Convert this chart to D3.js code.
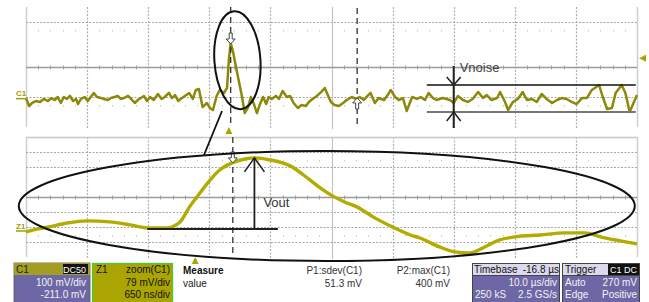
<!DOCTYPE html>
<html><head><meta charset="utf-8">
<script src="https://cdn.jsdelivr.net/npm/d3@7"></script>
<style>
html,body{margin:0;padding:0;background:#fff;}
svg{display:block;font-family:"Liberation Sans",Arial,sans-serif;}
</style></head>
<body><svg id="c" width="649" height="302"></svg>
<script>
// ---- Data ----
// C1 acquisition: time (µs, relative to trigger) and voltage (mV)
const c1Time = [-33.2,-32.7,-32.2,-31.6,-30.9,-30.3,-29.6,-29.1,-28.5,-28.0,-27.5,-27.0,-26.5,-26.0,-25.5,-25.0,-24.7,-24.2,-23.6,-23.1,-22.6,-22.1,-21.6,-20.9,-20.5,-19.8,-19.3,-18.7,-18.2,-17.7,-17.2,-16.5,-16.0,-15.4,-14.9,-14.4,-13.9,-13.4,-12.9,-12.3,-11.6,-11.0,-10.5,-9.8,-9.3,-8.8,-8.3,-7.9,-7.2,-6.5,-5.9,-5.4,-4.9,-4.3,-3.6,-3.1,-2.6,-2.0,-1.5,-0.8,-0.3,0.0,0.3,0.7,1.1,1.6,2.1,2.6,3.1,3.6,4.1,4.6,5.1,5.6,6.1,6.5,7.0,7.7,8.2,8.8,9.5,10.0,10.6,11.3,11.9,12.6,13.1,13.7,14.4,15.1,15.7,16.2,16.7,17.3,18.0,18.7,19.3,20.1,20.8,21.4,22.1,22.7,23.2,23.9,24.5,25.4,26.0,26.5,27.2,27.8,28.5,29.1,30.0,30.8,31.4,32.1,32.7,33.4,34.0,35.0,36.2,36.8,37.5,38.3,39.1,39.9,40.8,41.6,42.2,43.0,43.9,44.4,45.2,45.7,46.5,47.3,48.1,48.8,49.6,50.4,51.2,52.0,52.9,53.7,54.5,55.3,56.1,56.9,57.8,58.6,59.4,60.6,61.2,61.9,62.7,63.3,64.3,64.9,65.6,66.3,66.8];
const c1Mv = [4,-49,-29,-16,-22,-2,-16,4,-9,11,-29,11,-2,18,-16,-2,-36,-2,11,-16,11,38,11,4,-2,-9,4,11,18,-2,4,18,-2,-29,-9,4,18,-16,11,-9,31,-2,11,38,4,24,-16,-2,18,38,-2,58,64,-56,-29,-62,-76,18,58,38,71,258,371,311,224,124,24,-96,-62,11,-36,-96,-36,11,-36,11,-2,18,-2,51,11,18,-29,-62,-42,-49,-22,-2,18,44,71,24,-22,-42,-49,-29,-9,11,-2,11,-9,18,38,-29,4,-9,24,58,11,-9,4,-82,11,-2,11,-9,38,4,-9,4,-9,-29,18,-9,-22,-2,44,4,24,-9,4,44,-22,-76,-22,-2,44,-9,-2,-22,31,-2,-29,-9,4,-2,-22,-36,4,4,58,91,11,-69,-62,38,91,38,-89,-22,24];
// Z1 zoom of C1: time (µs) and voltage (mV)
const z1Time = [-2.00,-1.93,-1.76,-1.56,-1.35,-1.11,-0.89,-0.71,-0.49,-0.42,-0.36,-0.26,-0.15,-0.04,0.06,0.19,0.33,0.44,0.60,0.81,1.02,1.13,1.26,1.39,1.52,1.71,1.90,2.09,2.19,2.40,2.56,2.72,2.88,3.04,3.20,3.47,3.73,3.95,4.11,4.32,4.50];
const z1Mv = [-21,-11,5,26,37,32,16,0,0,11,32,111,184,253,305,342,363,369,358,327,253,211,169,137,111,53,5,-37,-53,-100,-126,-132,-100,-63,-47,-37,-26,-26,-47,-68,-84];
// Settings / annotations
const c1Scale = 100, c1Offset = -211;     // mV/div, mV
const z1Scale = 79, z1Center = 163;       // mV/div, mV at centre line
const timebase = 10, delay = -16.8;       // µs/div, µs
const zoomSpan = [-2.0, 4.5];             // µs
const vnoise = {top:91, bottom:-89, t0:32.4, t1:66.6, tArrow:36.8};
const vout = {base:0, peak:369, t0:-0.71, t1:0.68, tArrow:0.43};
const infoC1 = ["C1","DC50","100 mV/div","-211.0 mV"];
const infoZ1 = ["Z1","zoom(C1)","79 mV/div","650 ns/div"];
const measureNames = ["P1:sdev(C1)","P2:max(C1)"];
const measureValues = ["51.3 mV","400 mV"];
const infoTime = ["Timebase","-16.8 µs","10.0 µs/div","250 kS","2.5 GS/s"];
const infoTrig = ["Trigger","C1 DC","Auto","270 mV","Edge","Positive"];

// ---- Scales ----
const L = 26, R = 637;
const divX = d3.scaleLinear().domain([0,10]).range([L,R]);
const pTop = {y0:7, y1:127}, pBot = {y0:137, y1:257};
const divYTop = d3.scaleLinear().domain([-4,4]).range([pTop.y1, pTop.y0]);
const divYBot = d3.scaleLinear().domain([-4,4]).range([pBot.y1, pBot.y0]);
const xTop = d3.scaleLinear().domain([-(5*timebase + delay), 5*timebase - delay]).range([L,R]);
const yTop = d3.scaleLinear().domain([-c1Offset - 4*c1Scale, -c1Offset + 4*c1Scale]).range([pTop.y1, pTop.y0]);
const xZ = d3.scaleLinear().domain(zoomSpan).range([L,R]);
const yZ = d3.scaleLinear().domain([z1Center - 4*z1Scale, z1Center + 4*z1Scale]).range([pBot.y1, pBot.y0]);

const svg = d3.select("#c");

// ---- Grids ----
function grid(p, divY, hDotted, hSolid) {
  const g = svg.append("g");
  d3.range(0,11).forEach(i => {
    const x = Math.round(divX(i)) + 0.5;
    const edge = (i===0 || i===10);
    g.append("line").attr("x1",x).attr("x2",x).attr("y1",p.y0).attr("y2",p.y1+ (edge?0:2))
      .attr("stroke", edge ? "#cfcfcf" : (i===5 ? "#c4c4c4" : "#b0b0b0"))
      .attr("stroke-width", edge ? 1.5 : 1.2)
      .attr("stroke-dasharray", (edge||i===5) ? null : "2,1.5");
  });
  hDotted.forEach(d => {
    const y = Math.round(divY(d)) + 0.5;
    g.append("line").attr("x1",L).attr("x2",R).attr("y1",y).attr("y2",y)
      .attr("stroke","#a8a8a8").attr("stroke-width",1.1).attr("stroke-dasharray","2,1.5");
  });
  hSolid.forEach(d => {
    const y = Math.round(divY(d)) + 0.5;
    g.append("line").attr("x1",L).attr("x2",R).attr("y1",y).attr("y2",y)
      .attr("stroke", d===0 ? "#9a9a9a" : "#c8c8c8").attr("stroke-width", d===0 ? 1.3 : 1.5);
  });
  d3.range(0,50).forEach(k => {
    if (k%5===0) return;
    const x = Math.round(divX(k/5)) + 0.5;
    const yc = Math.round(divY(0)) + 0.5;
    g.append("line").attr("x1",x).attr("x2",x).attr("y1",yc-2).attr("y2",yc+2).attr("stroke","#a0a0a0");
    [2.5,-2.5].forEach(d => {
      const yy = Math.round(divY(d));
      g.append("line").attr("x1",x).attr("x2",x).attr("y1",yy).attr("y2",yy+1.5).attr("stroke","#c8c8c8");
    });
  });
}
grid(pTop, divYTop, [3,-2], [0]);
grid(pBot, divYBot, [3,2,-1,-2,-3], [4,0]);

// ---- Traces ----
const c1Data = c1Time.map((t,i)=>({t, v:c1Mv[i]}));
const z1Data = z1Time.map((t,i)=>({t, v:z1Mv[i]}));
svg.append("path").datum(c1Data)
  .attr("d", d3.line().x(d=>xTop(d.t)).y(d=>yTop(d.v)))
  .attr("fill","none").attr("stroke","#8c8808").attr("stroke-width",2.5).attr("stroke-linejoin","round");
svg.append("path").datum(z1Data)
  .attr("d", d3.line().curve(d3.curveMonotoneX).x(d=>xZ(d.t)).y(d=>yZ(d.v)))
  .attr("fill","none").attr("stroke","#b2ac00").attr("stroke-width",3.4).attr("stroke-linejoin","round");

// ---- Cursors ----
function dashed(x, y0, y1) {
  svg.append("line").attr("x1",x).attr("x2",x).attr("y1",y0).attr("y2",y1)
    .attr("stroke","#333").attr("stroke-width",1.3).attr("stroke-dasharray","6,4");
}
dashed(xTop(0.3), pTop.y0, pTop.y1);
dashed(xTop(21.0), pTop.y0+1, pTop.y1);
dashed(xZ(0.20), pBot.y0, pBot.y1);

function hollowArrow(x, yTip, dir) {
  const h = 11, s = dir;
  const pts = [[x-1.5, yTip - s*h],[x+1.5, yTip - s*h],[x+1.5, yTip - s*5],[x+4.5, yTip - s*5],[x, yTip],[x-4.5, yTip - s*5],[x-1.5, yTip - s*5]];
  svg.append("polygon").attr("points", pts.map(p=>p.join(",")).join(" "))
    .attr("fill","#fff").attr("stroke","#444").attr("stroke-width",1);
}
hollowArrow(xTop(0.3), yTop(371)+1, 1);
hollowArrow(xTop(21.0), yTop(-2)-1, -1);
hollowArrow(xZ(0.20), yZ(369)+5, 1);

function tri(x, y, dir, col) {
  let p;
  if (dir==="up") p = [[x,y-4],[x+3.5,y+3],[x-3.5,y+3]];
  else p = [[x-4,y],[x+3,y-3.5],[x+3,y+3.5]];
  svg.append("polygon").attr("points", p.map(q=>q.join(",")).join(" ")).attr("fill", col);
}
tri(xTop(0), 131, "up", "#a8a400");
tri(xZ(-0.20), 261, "up", "#a8a400");
tri(643, yTop(270), "left", "#a8a400");
svg.append("text").attr("x",16).attr("y",yTop(0)-3).attr("font-size",8).attr("fill","#a09c00").attr("font-weight","bold").text("C1");
svg.append("line").attr("x1",16).attr("x2",L).attr("y1",yTop(0)).attr("y2",yTop(0)).attr("stroke","#a09c00").attr("stroke-width",1.5);
svg.append("text").attr("x",16).attr("y",yZ(0)+1).attr("font-size",8).attr("fill","#a09c00").attr("font-weight","bold").text("Z1");
svg.append("line").attr("x1",16).attr("x2",L).attr("y1",yZ(0)+3).attr("y2",yZ(0)+3).attr("stroke","#a09c00").attr("stroke-width",1.5);

// ---- Annotation ellipses ----
svg.append("ellipse").attr("cx",xTop(1.4)).attr("cy",divYTop(0.45)).attr("rx",23).attr("ry",49)
  .attr("transform",`rotate(-4 ${xTop(1.4)} ${divYTop(0.45)})`)
  .attr("fill","none").attr("stroke","#111").attr("stroke-width",2);
svg.append("line").attr("x1",222).attr("y1",111).attr("x2",204).attr("y2",155).attr("stroke","#111").attr("stroke-width",1.8);
svg.append("ellipse").attr("cx",xZ(1.20)).attr("cy",divYBot(-0.6)).attr("rx",308).attr("ry",55)
  .attr("fill","none").attr("stroke","#111").attr("stroke-width",2);

// ---- Vnoise ----
const vnX = xTop(vnoise.tArrow);
svg.append("line").attr("x1",xTop(vnoise.t0)).attr("x2",xTop(vnoise.t1)).attr("y1",yTop(vnoise.top)).attr("y2",yTop(vnoise.top)).attr("stroke","#111").attr("stroke-width",1.5);
svg.append("line").attr("x1",xTop(vnoise.t0)).attr("x2",xTop(vnoise.t1)).attr("y1",yTop(vnoise.bottom)).attr("y2",yTop(vnoise.bottom)).attr("stroke","#777").attr("stroke-width",2);
svg.append("line").attr("x1",vnX).attr("x2",vnX).attr("y1",66).attr("y2",128).attr("stroke","#222").attr("stroke-width",2);
svg.append("polyline").attr("points",`${vnX-7},${yTop(vnoise.top)-8} ${vnX},${yTop(vnoise.top)} ${vnX+7},${yTop(vnoise.top)-8}`).attr("fill","none").attr("stroke","#222").attr("stroke-width",1.5);
svg.append("polyline").attr("points",`${vnX-7},${yTop(vnoise.bottom)+9} ${vnX},${yTop(vnoise.bottom)} ${vnX+7},${yTop(vnoise.bottom)+9}`).attr("fill","none").attr("stroke","#222").attr("stroke-width",1.5);
svg.append("text").attr("x",vnX+6).attr("y",72).attr("font-size",13).attr("fill","#444").text("Vnoise");

// ---- Vout ----
const voX = xZ(vout.tArrow);
svg.append("line").attr("x1",xZ(vout.t0)).attr("x2",xZ(vout.t1)).attr("y1",yZ(vout.base)+1).attr("y2",yZ(vout.base)+1).attr("stroke","#222").attr("stroke-width",2);
svg.append("line").attr("x1",voX).attr("x2",voX).attr("y1",yZ(vout.base)+1).attr("y2",yZ(vout.peak)).attr("stroke","#222").attr("stroke-width",1.8);
svg.append("polyline").attr("points",`${voX-10},${yZ(vout.peak)+14} ${voX},${yZ(vout.peak)} ${voX+10},${yZ(vout.peak)+14}`).attr("fill","none").attr("stroke","#222").attr("stroke-width",1.6);
svg.append("text").attr("x",voX+9).attr("y",207).attr("font-size",13).attr("fill","#333").text("Vout");

// ---- Info bar ----
const fs = 10;
function txt(x,y,s,opt={}) {
  return svg.append("text").attr("x",x).attr("y",y).attr("font-size",opt.size||fs)
    .attr("fill",opt.fill||"#222").attr("text-anchor",opt.anchor||"start")
    .attr("font-weight",opt.bold?"bold":null).text(s);
}
const purple = "#6e67a6";
svg.append("rect").attr("x",14).attr("y",263).attr("width",76).attr("height",40).attr("fill",purple).attr("stroke","#555").attr("stroke-width",0.8);
svg.append("rect").attr("x",14).attr("y",263).attr("width",76).attr("height",12).attr("fill","#a39e22");
svg.append("rect").attr("x",63).attr("y",264).attr("width",25).attr("height",10).attr("fill","#111");
txt(16,273,infoC1[0],{fill:"#222"});
txt(86,273,infoC1[1],{fill:"#fff",anchor:"end",size:9});
txt(86,286,infoC1[2],{fill:"#f2f2f2",anchor:"end"});
txt(86,298,infoC1[3],{fill:"#f2f2f2",anchor:"end"});
svg.append("rect").attr("x",92.5).attr("y",263.5).attr("width",80).attr("height",40).attr("fill","#aaa500").attr("stroke","#3fcf2a").attr("stroke-width",1.2);
txt(96,273,infoZ1[0],{fill:"#111"});
txt(170,273,infoZ1[1],{fill:"#111",anchor:"end"});
txt(170,286,infoZ1[2],{fill:"#111",anchor:"end"});
txt(170,298,infoZ1[3],{fill:"#111",anchor:"end"});
txt(183,274,"Measure",{bold:true,fill:"#111"});
txt(183,287,"value",{fill:"#222"});
[362,450].forEach((x,i)=>{
  txt(x,274,measureNames[i],{anchor:"end",fill:"#333"});
  txt(x,287,measureValues[i],{anchor:"end",fill:"#333"});
});
svg.append("rect").attr("x",472.5).attr("y",263.5).attr("width",87).attr("height",40).attr("fill",purple).attr("stroke","#444").attr("stroke-width",1);
svg.append("rect").attr("x",472.5).attr("y",263.5).attr("width",87).attr("height",12).attr("fill","#dcd9ee").attr("stroke","#444").attr("stroke-width",1);
txt(474,273,infoTime[0],{fill:"#111"});
txt(559,273,infoTime[1],{fill:"#111",anchor:"end"});
txt(557,286,infoTime[2],{fill:"#f2f2f2",anchor:"end"});
txt(475,298,infoTime[3],{fill:"#f2f2f2"});
txt(557,298,infoTime[4],{fill:"#f2f2f2",anchor:"end"});
svg.append("rect").attr("x",562.5).attr("y",263.5).attr("width",77).attr("height",40).attr("fill",purple).attr("stroke","#444").attr("stroke-width",1);
svg.append("rect").attr("x",562.5).attr("y",263.5).attr("width",77).attr("height",12).attr("fill","#dcd9ee").attr("stroke","#444").attr("stroke-width",1);
svg.append("rect").attr("x",608).attr("y",264).attr("width",31).attr("height",11).attr("fill","#111");
txt(565,273,infoTrig[0],{fill:"#111"});
txt(637,273,infoTrig[1],{fill:"#fff",anchor:"end",size:9});
txt(565,286,infoTrig[2],{fill:"#f2f2f2"});
txt(637,286,infoTrig[3],{fill:"#f2f2f2",anchor:"end"});
txt(565,298,infoTrig[4],{fill:"#f2f2f2"});
txt(637,298,infoTrig[5],{fill:"#f2f2f2",anchor:"end"});
</script>
</body></html>
